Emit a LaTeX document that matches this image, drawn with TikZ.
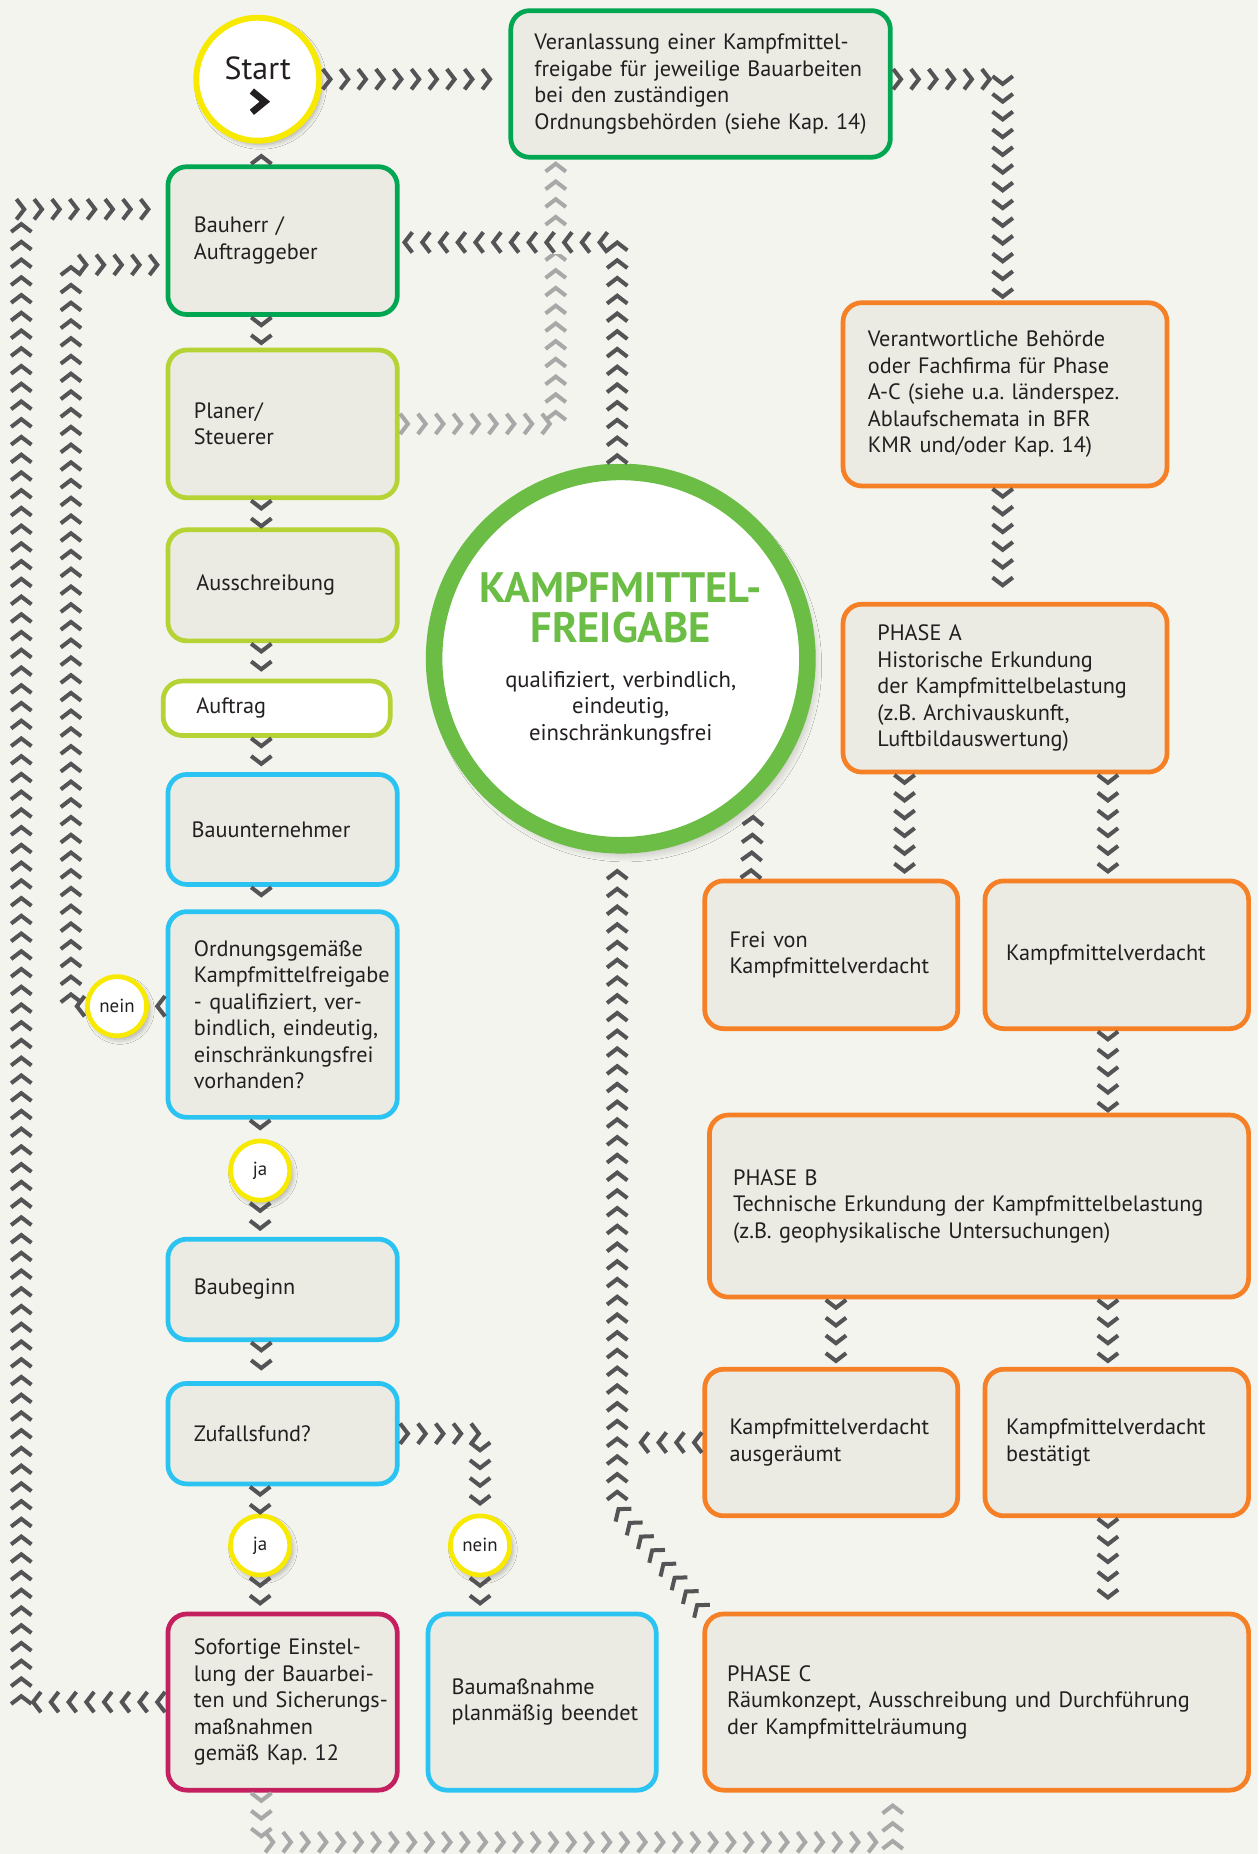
\documentclass[tikz,border=0pt]{standalone}
\usepackage{fontspec}
\setmainfont{PT Sans}
\usetikzlibrary{decorations.markings,shadows.blur}
\frenchspacing
\definecolor{bg}{HTML}{F4F4EE}
\definecolor{boxfill}{HTML}{EBEBE4}
\definecolor{cgreen}{HTML}{00A651}
\definecolor{clime}{HTML}{B5D334}
\definecolor{ccyan}{HTML}{2BC4F2}
\definecolor{corange}{HTML}{F58025}
\definecolor{cmagenta}{HTML}{C41F5E}
\definecolor{cyellow}{HTML}{F8E900}
\definecolor{kfgreen}{HTML}{6BBD45}
\definecolor{chevdark}{HTML}{545456}
\definecolor{chevlight}{HTML}{A8A8A8}
\definecolor{txt}{HTML}{231F20}
\newcommand\lft[2]{\parindent=0pt\leftskip=#1\relax\rightskip=-30pt plus 1fil\relax\hyphenpenalty=10000\exhyphenpenalty=10000\relax\noindent #2\par}
\tikzset{
  box/.style={draw, line width=2pt, rounded corners=8pt, fill=boxfill, inner xsep=0pt, inner ysep=0pt, text=txt, font=\fontsize{9.4}{11.2}\selectfont},
  bsz/.style 2 args={minimum width=#1, text width=#1, minimum height=#2},
  shade0/.style={blur shadow={shadow xshift=1.2pt, shadow yshift=-1.6pt, shadow blur radius=2pt, shadow blur steps=8, shadow opacity=30}},
  shade1/.style={blur shadow={shadow xshift=2pt, shadow yshift=-3pt, shadow blur radius=4pt, shadow blur steps=10, shadow opacity=30}},
  yn/.style={circle, draw=cyellow, line width=2pt, fill=white, minimum size=25pt, inner sep=0pt, text=txt, font=\fontsize{8}{9}\selectfont, shade0},
  chev/.style={decoration={markings, mark=between positions 3.5pt and -0.3pt step 7.5pt with {\draw[draw=#1, line width=1.7pt, line join=miter, line cap=butt] (-3.3pt,4.3pt) -- (0pt,0pt) -- (-3.3pt,-4.3pt);}}, postaction={decorate}},
}
\begin{document}
\begin{tikzpicture}[x=0.5pt,y=-0.5pt]
\fill[bg] (0,0) rectangle (1064,1568);
\useasboundingbox (0,0) rectangle (1064,1568);
% helper coordinates for connector columns and rows
\coordinate (cl) at (221,0);
\coordinate (ci) at (60,0);
\coordinate (co) at (18,0);
\coordinate (cp) at (470,0);
\coordinate (cq) at (522,0);
\coordinate (cq2) at (532,0);
\coordinate (cf) at (635,0);
\coordinate (ca) at (765,0);
\coordinate (cv) at (848,0);
\coordinate (cw) at (707,0);
\coordinate (cb) at (937,0);
\coordinate (cn) at (406,0);
\coordinate (cc) at (755,0);
\coordinate (vb) at (0,67);
\coordinate (otop) at (0,177);
\coordinate (qtop) at (0,205);
\coordinate (jtop) at (0,224);
\coordinate (rbend) at (0,1275);
\coordinate (obot) at (0,1558);

% ---- nodes ----
\node[circle, draw=cyellow, line width=2.5pt, fill=white, minimum size=52pt, inner sep=0pt, shade0] (start) at (218,67) {};
\node[font=\fontsize{13.5}{14}\selectfont, text=txt, anchor=base, inner sep=0pt] (startlbl) at (218,67) {Start};
\draw[txt, line width=2.8pt, line join=miter, miter limit=10] (213,77) -- (224,86) -- (213,95);

\node[box, draw=cgreen, bsz={160.5pt}{62pt}] (veran) at (592.5,71) {\lft{10pt}{Veranlassung einer Kampfmittel-\\freigabe für jeweilige Bauarbeiten\\bei den zuständigen\\Ordnungsbehörden (siehe Kap. 14)}};
\node[box, draw=cgreen, bsz={97pt}{62.5pt}] (bauherr) at (239,203.5) {\lft{11pt}{Bauherr /\\Auftraggeber}};
\node[box, draw=clime, bsz={97pt}{62.5pt}] (planer) at (239,358.5) {\lft{11pt}{Planer/\\Steuerer}};
\node[box, draw=clime, bsz={97pt}{47pt}] (ausschr) at (239,495) {\lft{12pt}{Ausschreibung}};
\node[box, draw=clime, fill=white, bsz={96pt}{23pt}] (auftrag) at (234,599) {\lft{14pt}{Auftrag}};
\node[box, draw=ccyan, bsz={97pt}{46.5pt}] (bauunt) at (239,701.5) {\lft{10pt}{Bauunternehmer}};
\node[box, draw=ccyan, bsz={97pt}{87pt}] (ordn) at (239,858) {\lft{11pt}{Ordnungsgemäße\\Kampfmittelfreigabe\\- qualifiziert, ver-\\bindlich, eindeutig,\\einschränkungsfrei\\vorhanden?}};
\node[yn] (nein1) at (99,851) {nein};
\node[yn] (ja1) at (220,990) {ja};
\node[box, draw=ccyan, bsz={97pt}{42.5pt}] (baubeg) at (239,1090.5) {\lft{11pt}{Baubeginn}};
\node[box, draw=ccyan, bsz={97pt}{42.5pt}] (zufall) at (239,1212.5) {\lft{11pt}{Zufallsfund?}};
\node[yn] (ja2) at (220,1307) {ja};
\node[yn] (nein2) at (406,1307) {nein};
\node[box, draw=cmagenta, bsz={97pt}{74.5pt}] (sofort) at (239,1439.5) {\lft{11pt}{Sofortige Einstel-\\lung der Bauarbei-\\ten und Sicherungs-\\maßnahmen\\gemäß Kap. 12}};
\node[box, draw=ccyan, bsz={96.5pt}{74.5pt}] (baumass) at (458.5,1439.5) {\lft{10pt}{Baumaßnahme\\planmäßig beendet}};

\node[circle, draw=kfgreen, line width=7pt, fill=white, minimum size=155pt, inner sep=0pt, text width=140pt, align=center, text=txt, font=\fontsize{9.6}{11.2}\selectfont, shade1] (kf) at (525,557)
  {{\color{kfgreen}\bfseries\fontsize{18}{17}\selectfont KAMPFMITTEL-\\FREIGABE\par}\vspace{7.5pt}qualifiziert, verbindlich,\\eindeutig,\\einschränkungsfrei};

\node[box, draw=corange, bsz={137pt}{77.5pt}] (verant) at (850,333.5) {\lft{10.5pt}{Verantwortliche Behörde\\oder Fachfirma für Phase\\A-C (siehe u.a. länderspez.\\Ablaufschemata in BFR\\KMR und/oder Kap. 14)}};
\node[box, draw=corange, bsz={137pt}{71pt}] (phasea) at (850,582) {\lft{14.5pt}{PHASE A\\Historische Erkundung\\der Kampfmittelbelastung\\(z.B. Archivauskunft,\\Luftbildauswertung)}};
\node[box, draw=corange, bsz={107pt}{62.5pt}] (freivon) at (703,807.5) {\lft{10.5pt}{Frei von\\Kampfmittelverdacht}};
\node[box, draw=corange, bsz={111.5pt}{62.5pt}] (kmv) at (944.5,807.5) {\lft{9pt}{Kampfmittelverdacht}};
\node[box, draw=corange, bsz={228pt}{77pt}] (phaseb) at (828,1020) {\lft{10pt}{PHASE B\\Technische Erkundung der Kampfmittelbelastung\\(z.B. geophysikalische Untersuchungen)}};
\node[box, draw=corange, bsz={107pt}{62pt}] (ausger) at (703,1220) {\lft{10.5pt}{Kampfmittelverdacht\\ausgeräumt}};
\node[box, draw=corange, bsz={111.5pt}{62pt}] (bestat) at (944.5,1220) {\lft{9pt}{Kampfmittelverdacht\\bestätigt}};
\node[box, draw=corange, bsz={230pt}{74.5pt}] (phasec) at (826,1439.5) {\lft{9.5pt}{PHASE C\\Räumkonzept, Ausschreibung und Durchführung\\der Kampfmittelräumung}};

% ---- connectors (chevron lines) ----
% light grey
\path[chev=chevlight] (planer.east) -- (planer.east -| cp) -- (veran.south -| cp);
\path[chev=chevlight] (sofort.south -| cl) -- (cl |- obot) -- (cc |- obot) -- (phasec.south -| cc);
% dark
\path[chev=chevdark, preaction={draw=bg, line width=10pt}] (kf.north -| cq) -- (cq |- qtop) -- (bauherr.east |- qtop);
\path[chev=chevdark] (start.east) -- (veran.west |- start.east);
\path[chev=chevdark] (veran.east |- vb) -- (cv |- vb) -- (verant.north -| cv);
\path[chev=chevdark] (bauherr.north -| cl) -- (start.south -| cl);
\path[chev=chevdark] (bauherr.south -| cl) -- (planer.north -| cl);
\path[chev=chevdark] (planer.south -| cl) -- (ausschr.north -| cl);
\path[chev=chevdark] (ausschr.south -| cl) -- (auftrag.north -| cl);
\path[chev=chevdark] (auftrag.south -| cl) -- (bauunt.north -| cl);
\path[chev=chevdark] (bauunt.south -| cl) -- (ordn.north -| cl);
\path[chev=chevdark] (ordn.south -| ja1) -- (ja1.north);
\path[chev=chevdark] (ja1.south) -- (baubeg.north -| ja1);
\path[chev=chevdark] (ordn.west |- nein1) -- (nein1.east);
\path[chev=chevdark] (nein1.west) -- (nein1.west -| ci) -- (ci |- jtop) -- (bauherr.west |- jtop);
\path[chev=chevdark] (baubeg.south -| cl) -- (zufall.north -| cl);
\path[chev=chevdark] (zufall.south -| ja2) -- (ja2.north);
\path[chev=chevdark] (ja2.south) -- (sofort.north -| ja2);
\path[chev=chevdark] (zufall.east) -- (zufall.east -| cn) -- (nein2.north);
\path[chev=chevdark] (nein2.south) -- (baumass.north -| nein2);
\path[chev=chevdark] (sofort.west) -- (sofort.west -| co) -- (co |- otop) -- (bauherr.west |- otop);
\path[chev=chevdark] (ausger.west) -- (ausger.west -| cq2);
\path[chev=chevdark] (phasec.north west) -- (cq |- rbend) -- (kf.south -| cq);
\path[chev=chevdark] (freivon.north -| cf) -- (kf.-47.5);
\path[chev=chevdark] (verant.south -| cv) -- (phasea.north -| cv);
\path[chev=chevdark] (phasea.south -| ca) -- (freivon.north -| ca);
\path[chev=chevdark] (phasea.south -| cb) -- (kmv.north -| cb);
\path[chev=chevdark] (kmv.south -| cb) -- (phaseb.north -| cb);
\path[chev=chevdark] (phaseb.south -| cw) -- (ausger.north -| cw);
\path[chev=chevdark] (phaseb.south -| cb) -- (bestat.north -| cb);
\path[chev=chevdark] (bestat.south -| cb) -- (phasec.north -| cb);
\end{tikzpicture}
\end{document}
